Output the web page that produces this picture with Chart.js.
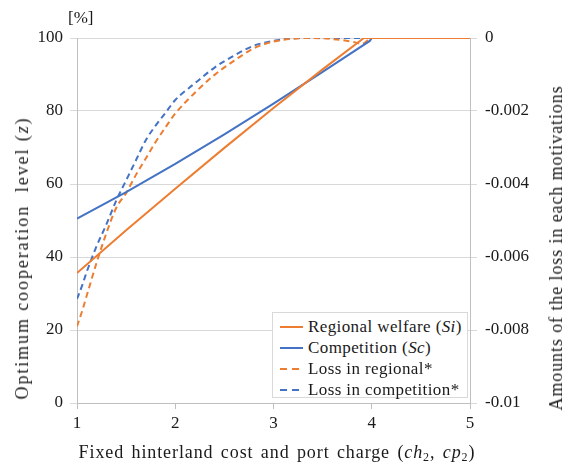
<!DOCTYPE html>
<html>
<head>
<meta charset="utf-8">
<script src="https://cdn.jsdelivr.net/npm/chart.js@4.4.1/dist/chart.umd.min.js"></script>
<style>
  body { margin: 0; background: #fff; font-family: 'Liberation Serif', 'Times New Roman', Tinos, 'DejaVu Serif', serif; color: #1a1a1a; }
  #wrap { position: relative; width: 570px; height: 470px; }
  #c { position: absolute; left: 0; top: 0; }
  .t { position: absolute; white-space: nowrap; font-size: 18px; line-height: 1; }
  .rot { transform: translate(-50%, -50%) rotate(-90deg); }
  .ctr { transform: translate(-50%, -50%); }
  sub { font-size: 12px; vertical-align: -3px; }
  #legend { position: absolute; left: 272px; top: 312px; width: 196px; height: 86px; border: 1px solid #d9d9d9; background: #fff; box-sizing: border-box; }
  .row { position: absolute; left: 7px; height: 21px; display: flex; align-items: center; font-size: 17px; letter-spacing: 0.4px; }
  .row svg { margin-right: 5px; }
</style>
</head>
<body>
<div id="wrap">
  <canvas id="c" width="570" height="470"></canvas>
  <div class="t" style="left:68px;top:9px;font-size:17px">[%]</div>
  <div class="t rot" style="left:22px;top:258px;letter-spacing:1.9px">Optimum cooperation&nbsp; level (<i>z</i>)</div>
  <div class="t rot" style="left:556px;top:248px;letter-spacing:0.9px">Amounts of the loss in each motivations</div>
  <div class="t ctr" style="left:277px;top:453px;letter-spacing:0.9px;word-spacing:2px">Fixed hinterland cost and port charge (<i>ch</i><sub>2</sub>, <i>cp</i><sub>2</sub>)</div>
  <div id="legend"></div>
</div>
<script>
const ORANGE = '#ED7D31';
const BLUE   = '#4472C4';
const SERIF  = "'Liberation Serif', 'Times New Roman', Tinos, 'DejaVu Serif', serif";

// x positions (fixed hinterland cost / port charge)
const X_SI     = [1, 1.5, 2, 2.5, 3, 3.5, 3.92, 5];
const X_SC     = [1, 1.5, 2, 2.5, 3, 3.5, 3.98, 4, 5];
const X_LOSS_R = [1, 1.05, 1.1, 1.2, 1.3, 1.4, 1.5, 1.6, 1.7, 1.8, 1.9, 2.0, 2.2, 2.4, 2.6, 2.8, 3.0, 3.2, 3.4, 3.6, 3.8, 3.9, 4.0, 5.0];
const X_LOSS_C = [1, 1.05, 1.1, 1.2, 1.3, 1.4, 1.5, 1.6, 1.7, 1.8, 1.9, 2.0, 2.2, 2.4, 2.6, 2.8, 3.0, 3.2, 3.4, 5.0];

// optimum cooperation level [%] (left axis)
const SI = [35.6, 47.3, 58.7, 69.9, 80.8, 91.4, 100, 100];
const SC = [50.5, 57.8, 65.5, 73.6, 82.0, 90.7, 99.2, 100, 100];

// loss amounts (right axis)
const LOSS_R = [-0.0079, -0.0075, -0.00705, -0.00615, -0.00534, -0.00465, -0.00425, -0.00375, -0.0033, -0.00285, -0.00245, -0.00207, -0.0015, -0.00101, -0.00062, -0.00028, -0.0001, -0.00002, 0, -0.00003, -0.0001, -0.00016, 0, 0];
const LOSS_C = [-0.00715, -0.0068, -0.0064, -0.0057, -0.0051, -0.00445, -0.0039, -0.00335, -0.0028, -0.0024, -0.00205, -0.0017, -0.00124, -0.00081, -0.00048, -0.00021, -0.00008, -0.00001, 0, 0];

const X_TICKS  = [1, 2, 3, 4, 5];
const Y_TICKS  = [0, 20, 40, 60, 80, 100];
const Y2_TICKS = [-0.01, -0.008, -0.006, -0.004, -0.002, 0];

const LEGEND = [
  { html: 'Regional welfare (<i>Si</i>)', color: ORANGE, dash: false },
  { html: 'Competition (<i>Sc</i>)',      color: BLUE,   dash: false },
  { html: 'Loss in regional*',            color: ORANGE, dash: true },
  { html: 'Loss in competition*',         color: BLUE,   dash: true },
];

const pts = (xs, ys) => xs.map((x, i) => ({ x, y: ys[i] }));
const solid = (data, color) => ({
  data, borderColor: color, borderWidth: 2, pointRadius: 0, yAxisID: 'y', tension: 0, fill: false,
});
const dashed = (data, color) => ({
  data, borderColor: color, borderWidth: 2, pointRadius: 0, yAxisID: 'y2',
  borderDash: [6, 4], cubicInterpolationMode: 'monotone', fill: false,
});

const tickFont = { family: SERIF, size: 17 };
const axisCol = '#bfbfbf';
const gridCol = '#d9d9d9';

new Chart(document.getElementById('c'), {
  type: 'line',
  data: {
    datasets: [
      solid(pts(X_SI, SI), ORANGE),
      solid(pts(X_SC, SC), BLUE),
      dashed(pts(X_LOSS_R, LOSS_R), ORANGE),
      dashed(pts(X_LOSS_C, LOSS_C), BLUE),
    ],
  },
  options: {
    responsive: false, animation: false,
    layout: { padding: { top: 38 } },
    plugins: { legend: { display: false }, tooltip: { enabled: false } },
    scales: {
      x: {
        type: 'linear', min: 1, max: 5,
        afterBuildTicks: s => { s.ticks = X_TICKS.map(v => ({ value: v })); },
        afterFit: s => { s.height = 67; },
        grid: { drawOnChartArea: false, tickLength: 6, color: axisCol },
        border: { color: axisCol },
        ticks: { color: '#1a1a1a', font: tickFont, padding: 4, maxRotation: 0 },
      },
      y: {
        position: 'left', min: 0, max: 100,
        afterBuildTicks: s => { s.ticks = Y_TICKS.map(v => ({ value: v })); },
        afterFit: s => { s.width = 77; },
        grid: { color: gridCol, tickLength: 7 },
        border: { color: axisCol },
        ticks: { color: '#1a1a1a', font: tickFont, padding: 7 },
      },
      y2: {
        position: 'right', min: -0.01, max: 0,
        afterBuildTicks: s => { s.ticks = Y2_TICKS.map(v => ({ value: v })); },
        afterFit: s => { s.width = 100; },
        grid: { drawOnChartArea: false, color: gridCol, tickLength: 7 },
        border: { color: axisCol },
        ticks: { color: '#1a1a1a', font: tickFont, padding: 8, callback: v => v === 0 ? '0' : String(+v.toFixed(3)) },
      },
    },
  },
});

let lg = '';
LEGEND.forEach((it, i) => {
  lg += `<div class="row" style="top:${3 + i * 21}px">
    <svg width="23" height="4"><line x1="0" y1="2" x2="23" y2="2" stroke="${it.color}" stroke-width="2" ${it.dash ? 'stroke-dasharray="7 5"' : ''}/></svg>
    <span>${it.html}</span></div>`;
});
document.getElementById('legend').innerHTML = lg;
</script>
</body>
</html>
